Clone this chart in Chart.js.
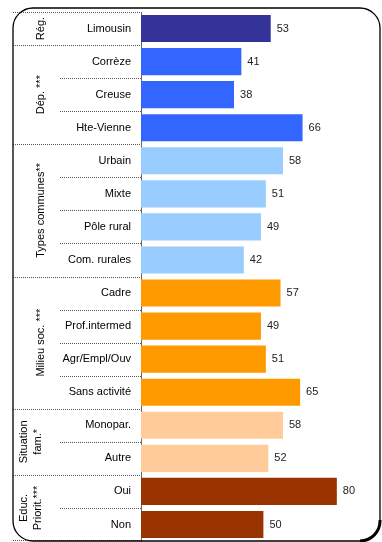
<!DOCTYPE html>
<html>
<head>
<meta charset="utf-8">
<script src="https://cdn.jsdelivr.net/npm/chart.js@4"></script>
<style>
  body { margin: 0; background: #fff; }
  canvas { display: block; }
</style>
</head>
<body>
<canvas id="chart" width="382" height="542"></canvas>
<script>
var categories = ["Limousin", "Corrèze", "Creuse", "Hte-Vienne", "Urbain", "Mixte", "Pôle rural", "Com. rurales",
  "Cadre", "Prof.intermed", "Agr/Empl/Ouv", "Sans activité", "Monopar.", "Autre", "Oui", "Non"];
var values = [53, 41, 38, 66, 58, 51, 49, 42, 57, 49, 51, 65, 58, 52, 80, 50];
var groupNames = [["Rég."], ["Dép. ***"], ["Types communes**"], ["Milieu soc. ***"], ["Situation", "fam.*"], ["Educ.", "Priorit.***"]];
var groupSizes = [1, 3, 4, 4, 2, 2];
var groupColors = ["#333399", "#3366FF", "#99CCFF", "#FF9900", "#FFCC99", "#993300"];

var barColors = [];
groupSizes.forEach(function (n, g) {
  for (var i = 0; i < n; i++) barColors.push(groupColors[g]);
});

var FONT = "Liberation Sans, Arial, sans-serif";

var decorations = {
  id: "decorations",
  afterDraw: function (chart) {
    var ctx = chart.ctx;
    var y = chart.scales.y;
    var area = chart.chartArea;
    ctx.save();

    // dotted separators
    ctx.strokeStyle = "#555";
    ctx.lineWidth = 1;
    ctx.setLineDash([1, 1]);
    var start = 0;
    var edges = [];
    groupSizes.forEach(function (n) {
      for (var i = start + 1; i < start + n; i++) edges.push({ i: i, full: false });
      edges.push({ i: start, full: true });
      start += n;
    });
    edges.push({ i: categories.length, full: true });
    edges.forEach(function (e) {
      var py;
      if (e.i === 0) py = area.top;
      else if (e.i === categories.length) py = area.bottom - 1;
      else py = (y.getPixelForValue(e.i - 1) + y.getPixelForValue(e.i)) / 2;
      py = Math.round(py) + 0.5;
      ctx.beginPath();
      ctx.moveTo(e.full ? 13 : 60, py);
      ctx.lineTo(area.left, py);
      ctx.stroke();
    });
    ctx.setLineDash([]);

    // group labels, rotated
    ctx.fillStyle = "#000";
    ctx.font = "11px " + FONT;
    ctx.textAlign = "center";
    ctx.textBaseline = "middle";
    start = 0;
    groupSizes.forEach(function (n, g) {
      var cy = (y.getPixelForValue(start) + y.getPixelForValue(start + n - 1)) / 2;
      var lines = groupNames[g];
      lines.forEach(function (txt, k) {
        var cx = lines.length === 1 ? 41 : 24 + k * 14;
        ctx.save();
        ctx.translate(cx, cy);
        ctx.rotate(-Math.PI / 2);
        ctx.fillText(txt, 0, 0);
        ctx.restore();
      });
      start += n;
    });

    // value labels
    ctx.fillStyle = "#222";
    ctx.textAlign = "left";
    chart.getDatasetMeta(0).data.forEach(function (bar, i) {
      ctx.fillText(values[i], bar.x + 6, bar.y);
    });

    // rounded frame
    ctx.strokeStyle = "#000";
    ctx.lineWidth = 1.3;
    ctx.beginPath();
    ctx.roundRect(13, 8, 367, 533, 20);
    ctx.stroke();
    ctx.lineWidth = 3;
    ctx.beginPath();
    ctx.moveTo(380, 520);
    ctx.arcTo(380, 541, 360, 541, 20);
    ctx.stroke();
    ctx.restore();
  }
};

new Chart("chart", {
  type: "bar",
  data: {
    labels: categories,
    datasets: [{
      data: values,
      backgroundColor: barColors,
      barPercentage: 0.82,
      categoryPercentage: 1
    }]
  },
  options: {
    responsive: false,
    animation: false,
    indexAxis: "y",
    layout: { padding: { top: 12, bottom: 1, right: 6, left: 0 } },
    plugins: {
      legend: { display: false },
      tooltip: { enabled: false }
    },
    scales: {
      x: { display: false, min: 0, max: 96 },
      y: {
        afterFit: function (axis) {
          axis.width = 141;
          axis.paddingTop = 0;
          axis.paddingBottom = 0;
        },
        grid: { display: false, drawTicks: false },
        border: { display: true, color: "#666" },
        ticks: {
          padding: 10,
          color: "#000",
          font: { family: FONT, size: 11 }
        }
      }
    }
  },
  plugins: [decorations]
});
</script>
</body>
</html>
